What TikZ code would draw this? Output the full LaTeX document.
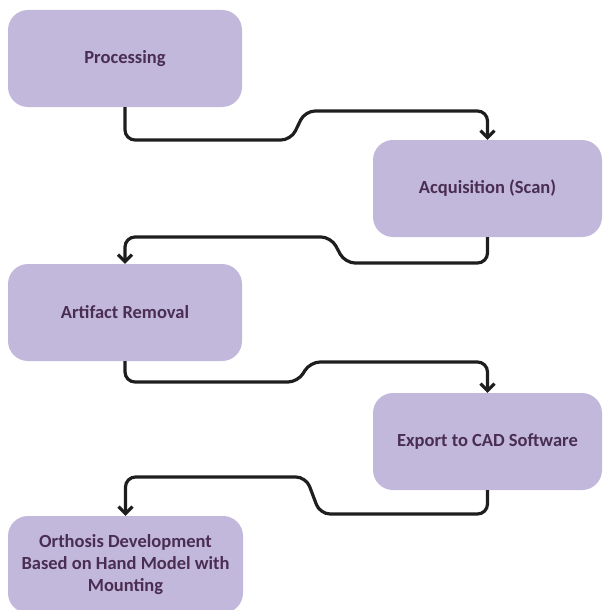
\documentclass[tikz,border=0pt]{standalone}
\usepackage{fontspec}
\setmainfont{Carlito}
\usetikzlibrary{arrows.meta}
\definecolor{boxfill}{HTML}{C2B8DB}
\definecolor{boxtext}{HTML}{4A2E52}
\definecolor{lineblack}{HTML}{1E1E1E}
\tikzset{
  stepbox/.style={fill=boxfill, draw=none, rounded corners=20pt, minimum width=234pt, minimum height=97pt,
    inner sep=0pt, align=center, text=boxtext, font=\fontsize{18.5}{22}\selectfont\bfseries},
  conn/.style={draw=lineblack, line width=3.2pt, rounded corners=10pt, -{Straight Barb[length=7pt,width=14pt,line width=3.2pt]}}
}
\begin{document}
\begin{tikzpicture}[x=1pt,y=-1pt]
\useasboundingbox (0,0) rectangle (603,610);
\node[stepbox] (p) at (125,58.5) {Processing};
\node[stepbox, minimum width=229pt] (a) at (487.5,188.5) {Acquisition (Scan)};
\node[stepbox] (r) at (125,312.5) {Artifact Removal};
\node[stepbox, minimum width=229pt] (e) at (487.5,441.5) {Export to CAD Software};
\node[stepbox, minimum width=235pt] (o) at (125.5,564.5) {Orthosis Development\\Based on Hand Model with\\Mounting};
\draw[conn] (p.south) -- (p.south |- 0,140) -- (291,140) -- (305,111) -- (a.north |- 0,111) -- (a.north);
\draw[conn] (a.south) -- (a.south |- 0,263) -- (345,263) -- (331,237) -- (r.north |- 0,237) -- (r.north);
\draw[conn] (r.south) -- (r.south |- 0,382) -- (298,382) -- (310,362) -- (e.north |- 0,362) -- (e.north);
\draw[conn] (e.south) -- (e.south |- 0,514) -- (320,514) -- (306,477) -- (o.north |- 0,477) -- (o.north);
\end{tikzpicture}
\end{document}
